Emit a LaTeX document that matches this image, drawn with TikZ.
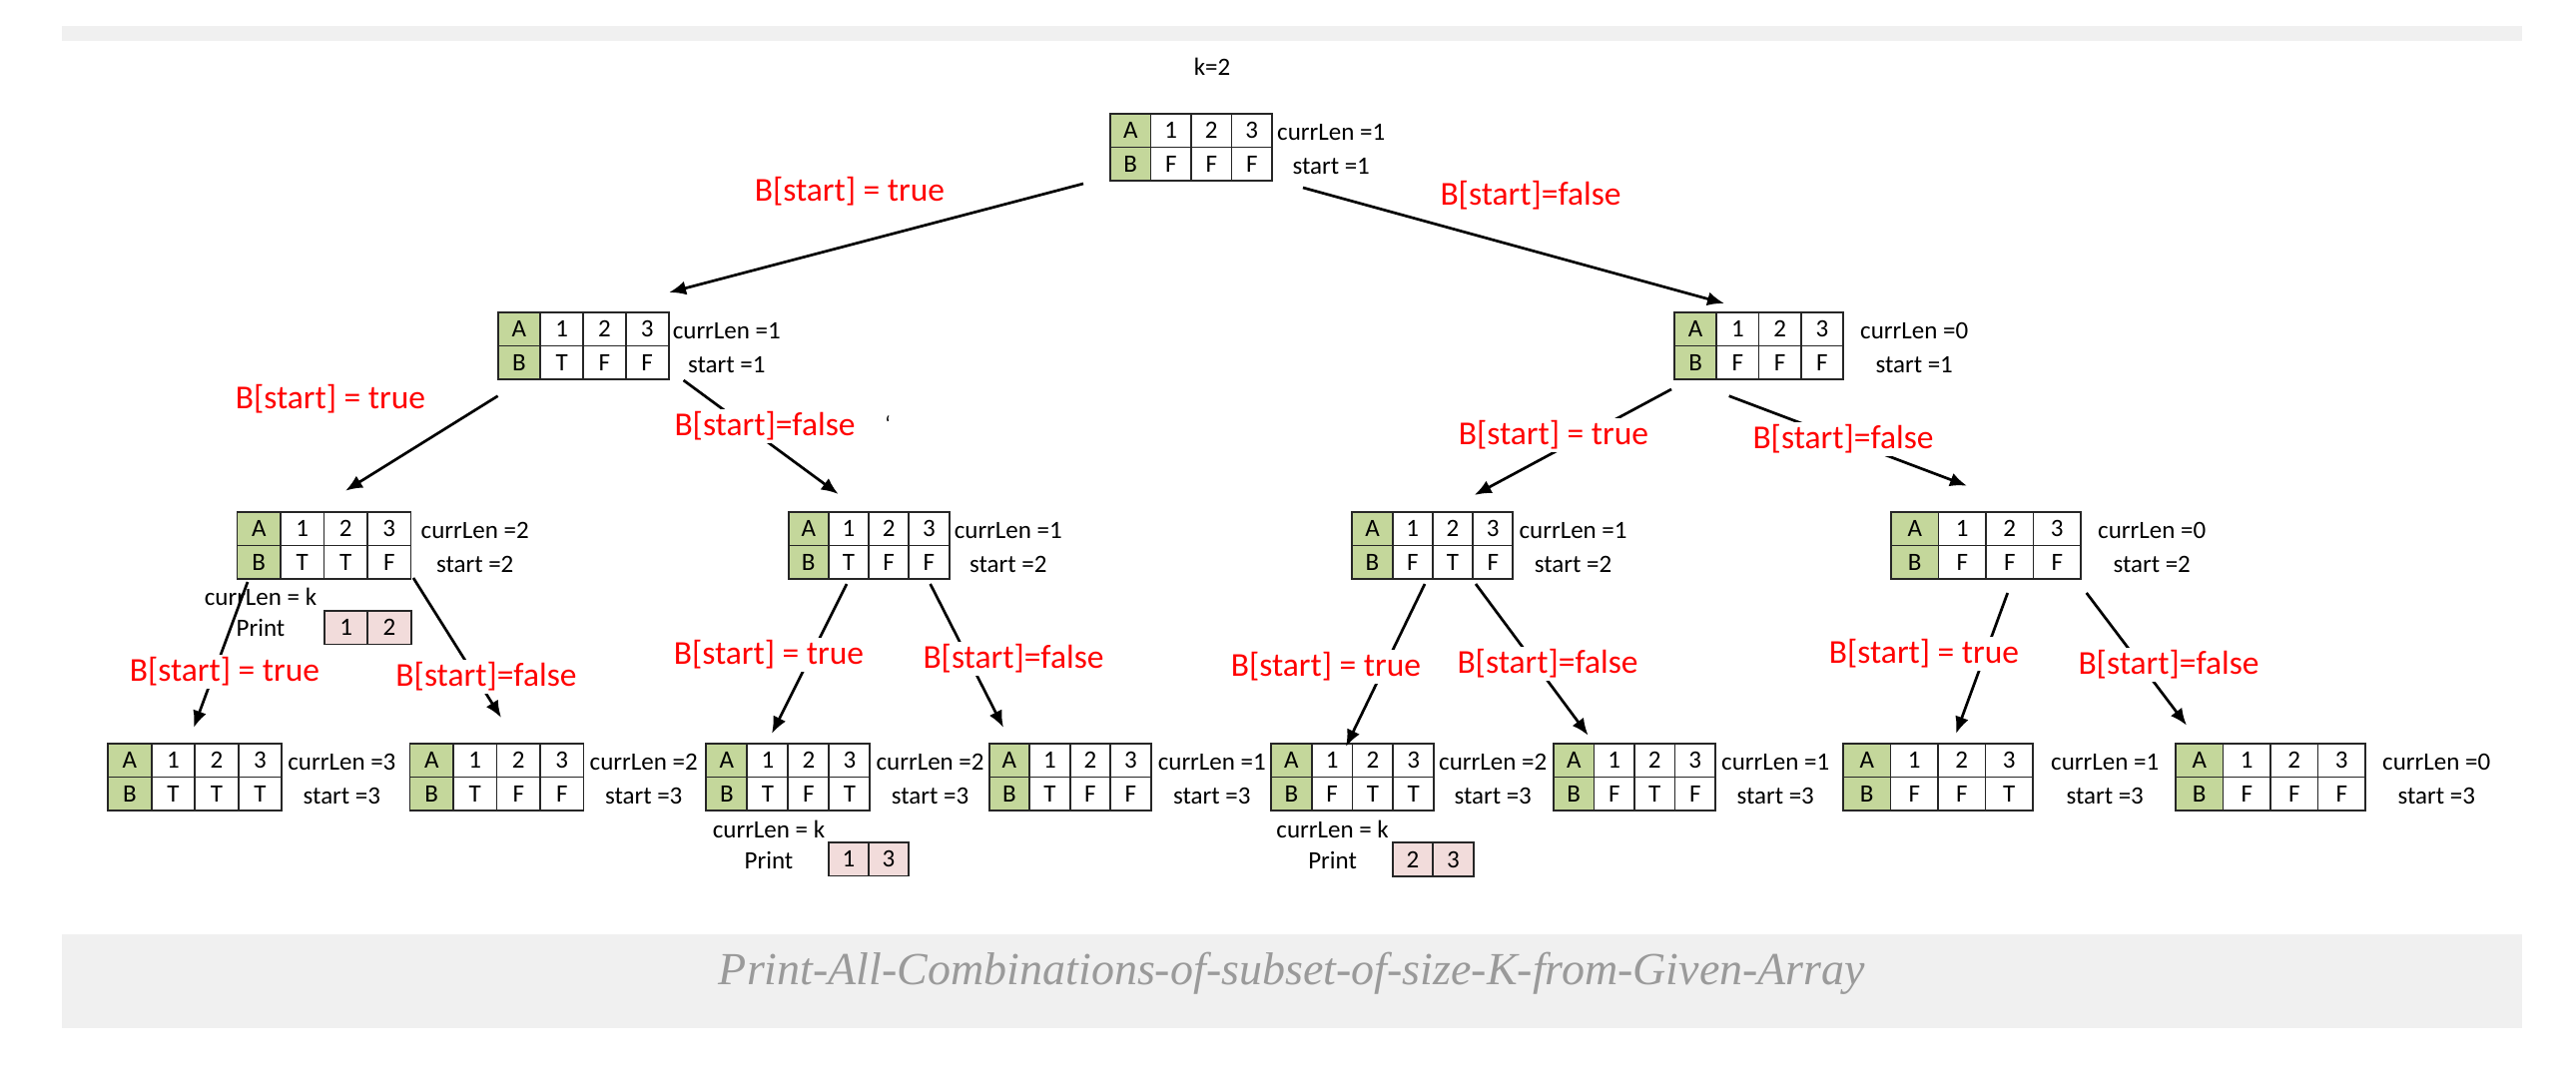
\documentclass[tikz,border=0pt]{standalone}
\usepackage{fontspec}
\setmainfont{Carlito}
\newfontfamily\capfont{Liberation Serif}
\usetikzlibrary{calc,positioning,arrows.meta}

\definecolor{cellgreen}{HTML}{C4D79B}
\definecolor{cellpink}{HTML}{F2DCDB}
\definecolor{barcol}{HTML}{F0F0F0}
\definecolor{capgray}{HTML}{9A9A9A}

\tikzset{
  tbl/.style={draw=black!85, line width=1.9pt, inner sep=0pt, outer sep=0pt, minimum height=67pt},
  sepline/.style={draw=black!85, line width=1.9pt},
  cell/.style={font=\fontsize{25}{28}\selectfont, inner sep=0pt},
  side/.style={font=\fontsize{25}{34}\selectfont, align=center, inner sep=0pt},
  cond/.style={font=\fontsize{33.5}{38}\selectfont, text=red, fill=white, inner sep=3pt},
  link/.style={line width=2.7pt, -{Latex[length=17pt,width=14pt]}},
}

\newcommand{\arrtbl}[8]{%
  \fill[cellgreen] (#2,#3) rectangle ++(#4,67);
  \node[tbl, minimum width=4*#4, anchor=north west] (#1) at (#2,#3) {};
  \draw[sepline] (#1.west) -- (#1.east);
  \foreach \i in {1,2,3} \draw[sepline] ($(#1.north west)+(\i*#4,0)$) -- ++(0,67);
  \foreach \t [count=\i] in {A,1,2,3}
    \node[cell] at ($(#1.north west)+(\i*#4-#4/2,16.75)$) {\t};
  \foreach \t [count=\i] in {B,#5}
    \node[cell] at ($(#1.north west)+(\i*#4-#4/2,50.25)$) {\t};
  \node[side, right=#8pt of #1, yshift=-2pt] {currLen =#6\\start =#7};
}

\newcommand{\prtbox}[6]{%
  \fill[cellpink] (#2,#3) rectangle ++(2*#4,33.5);
  \node[tbl, minimum width=2*#4, minimum height=33.5, anchor=north west] (#1) at (#2,#3) {};
  \draw[sepline] (#1.north) -- (#1.south);
  \node[cell] at ($(#1.west)!0.25!(#1.east)$) {#5};
  \node[cell] at ($(#1.west)!0.75!(#1.east)$) {#6};
}

\begin{document}
\begin{tikzpicture}[x=1pt, y=-1pt]
  \useasboundingbox (0,0) rectangle (2580,1089);
  \fill[barcol] (62,26) rectangle (2526,41);
  \fill[barcol] (62,936) rectangle (2526,1030);

  \node[side] (k) at (1214,67) {k=2};

  \arrtbl{a1}{1112}{114}{40.5}{F,F,F}{1}{1}{5}
  \arrtbl{b1}{498.6}{313}{42.75}{T,F,F}{1}{1}{4}
  \arrtbl{b2}{1677}{313}{42.25}{F,F,F}{0}{1}{17}
  \arrtbl{c1}{237.5}{513}{43.5}{T,T,F}{2}{2}{10}
  \arrtbl{c2}{789.6}{513}{40.25}{T,F,F}{1}{2}{5}
  \arrtbl{c3}{1354.4}{513}{40.25}{F,T,F}{1}{2}{6}
  \arrtbl{c4}{1894}{513}{47.5}{F,F,F}{0}{2}{17}
  \arrtbl{d1}{108.2}{745}{43.5}{T,T,T}{3}{3}{6}
  \arrtbl{d2}{410.5}{745}{43.5}{T,F,F}{2}{3}{6}
  \arrtbl{d3}{707.4}{745}{41}{T,F,T}{2}{3}{6}
  \arrtbl{d4}{990.6}{745}{40.5}{T,F,F}{1}{3}{7}
  \arrtbl{d5}{1273}{745}{40.75}{F,T,T}{2}{3}{5}
  \arrtbl{d6}{1556}{745}{40.5}{F,T,F}{1}{3}{6}
  \arrtbl{d7}{1846}{745}{47.5}{F,F,T}{1}{3}{18}
  \arrtbl{d8}{2179}{745}{47.5}{F,F,F}{0}{3}{17}

  \node[side, font=\fontsize{25}{31}\selectfont] (k1) at (261,613.5) {currLen = k\\Print};
  \prtbox{p1}{325}{612}{43.3}{1}{2}
  \node[side, font=\fontsize{25}{31}\selectfont] (k2) at (770,846) {currLen = k\\Print};
  \prtbox{p2}{830}{844}{40}{1}{3}
  \node[side, font=\fontsize{25}{31}\selectfont] (k3) at (1334.6,846.4) {currLen = k\\Print};
  \prtbox{p3}{1394.7}{844.3}{40.5}{2}{3}

  \draw[link] ($(a1.south west)+(-27,3)$) -- ($(b1.north)+(86,-20)$);
  \draw[link] ($(a1.south east)+(31,7)$) -- ($(b2.north)+(-34.5,-9)$);
  \draw[link] ($(b1.south west)+(0,16.7)$) -- ($(c1.north)+(21.5,-21.3)$);
  \draw[link] ($(b1.south east)+(15,1)$) -- ($(c2.north)+(-30.5,-18)$);
  \draw[link] ($(b2.south west)+(-3,10)$) -- ($(c3.north)+(41.8,-17)$);
  \draw[link] ($(b2.south west)+(54.7,16.7)$) -- ($(c4.north)+(-19,-26.3)$);
  \draw[link] ($(c1.south west)+(10.5,3)$) -- ($(d1.north)+(-1.2,-16)$);
  \draw[link] ($(c1.south east)+(2.5,-1)$) -- ($(d2.north)+(4.5,-26)$);
  \draw[link] ($(c2.south west)+(58.4,5)$) -- ($(d3.north)+(-16.4,-10)$);
  \draw[link] ($(c2.south east)+(-18.9,5)$) -- ($(d4.north)+(-66.6,-16)$);
  \draw[link] ($(c3.south west)+(72.6,5)$) -- ($(d5.north)+(-6.5,3)$);
  \draw[link] ($(c3.south east)+(-37.4,5)$) -- ($(d6.north)+(-46.4,-8.3)$);
  \draw[link] ($(c4.south west)+(116.7,14)$) -- ($(d7.north)+(18,-10)$);
  \draw[link] ($(c4.south east)+(5.7,14)$) -- ($(d8.north)+(-84,-18.3)$);

  \node[cond] (t1) at (851,192) {B[start] = true};
  \node[cond] (f1) at (1533,196) {B[start]=false};
  \node[cond] (t2) at (331,400) {B[start] = true};
  \node[cond] (f2) at (766,427) {B[start]=false};
  \node[cond] (t3) at (1556,436) {B[start] = true};
  \node[cond] (f3) at (1846,440) {B[start]=false};
  \node[cond] (t4) at (225,673) {B[start] = true};
  \node[cond] (f4) at (487,678) {B[start]=false};
  \node[cond] (t5) at (770,656) {B[start] = true};
  \node[cond] (f5) at (1015,660) {B[start]=false};
  \node[cond] (t6) at (1328,668) {B[start] = true};
  \node[cond] (f6) at (1550,665) {B[start]=false};
  \node[cond] (t7) at (1927,655) {B[start] = true};
  \node[cond] (f7) at (2172,666) {B[start]=false};
  \node[font=\fontsize{22}{26}\selectfont] (tick) at (889,425) {\symbol{96}};

  \node[text=capgray, font=\capfont\itshape\fontsize{46}{52}\selectfont] (cap) at (1294,975)
    {Print-All-Combinations-of-subset-of-size-K-from-Given-Array};
\end{tikzpicture}
\end{document}
